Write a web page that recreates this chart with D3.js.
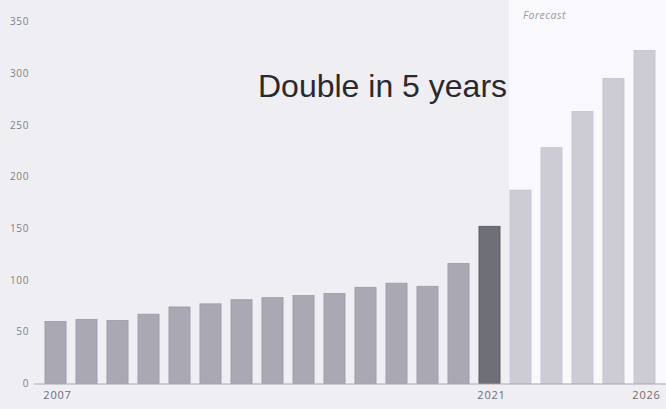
<!DOCTYPE html>
<html><head><meta charset="utf-8">
<script src="https://cdn.jsdelivr.net/npm/d3@7"></script>
<style>
html,body{margin:0;padding:0;background:#efeef2;}
svg{display:block;}
</style></head>
<body>
<svg id="chart" width="666" height="409"></svg>
<script>
const years = ["2007","2008","2009","2010","2011","2012","2013","2014","2015","2016","2017","2018","2019","2020","2021","2022","2023","2024","2025","2026"];
const values = [60,62,61,67,74,77,81,83,85,87,93,97,94,116,152,187,228,263,295,322];
const yTicks = [0,50,100,150,200,250,300,350];
const xTickLabels = ["2007","2021","2026"];
const forecastStart = "2022";
const currentYear = "2021";
const title = "Double in 5 years";
const forecastLabel = "Forecast";

const svg = d3.select("#chart");
const W = 666, H = 409;

const x = d3.scaleBand().domain(years).range([40, 660]).paddingInner(0.32).paddingOuter(0.16);
const y = d3.scaleLinear().domain([0, 350]).range([383.5, 21.5]);

// background
svg.append("rect").attr("x",0).attr("y",0).attr("width",W).attr("height",H).attr("fill","#efeef2");
// forecast region
const fx = x(forecastStart) - 1;
svg.append("rect").attr("x", fx).attr("y", 0).attr("width", W - fx).attr("height", y(0))
  .attr("fill", "#f9f8fc");

// bars
const idxF = years.indexOf(forecastStart);
svg.append("g").selectAll("rect").data(years).join("rect")
  .attr("x", d => x(d))
  .attr("width", x.bandwidth())
  .attr("y", (d,i) => y(values[i]))
  .attr("height", (d,i) => y(0) - y(values[i]))
  .attr("fill", (d,i) => d === currentYear ? "#6f6f78" : (i >= idxF ? "#cdccd5" : "#a9a8b3"))
  .attr("stroke", (d,i) => d === currentYear ? "#55555e" : (i >= idxF ? "#c4c3cc" : "#9b9aa6"))
  .attr("stroke-width", 0.8);

// baseline
svg.append("line").attr("x1", 34).attr("x2", W).attr("y1", y(0)+0.5).attr("y2", y(0)+0.5)
  .attr("stroke", "#a9a8b0").attr("stroke-width", 1.2);

// y axis labels
const yAxis = d3.axisLeft(y).tickValues(yTicks).tickSize(0).tickPadding(0);
const gy = svg.append("g").attr("transform", "translate(29,0)").call(yAxis);
gy.select(".domain").remove();
gy.selectAll("text").attr("font-family", "'Open Sans', sans-serif").attr("font-size", 10)
  .attr("fill", "#807f86").attr("letter-spacing", "0.6px");

// x axis labels
const xAxis = d3.axisBottom(x).tickValues(xTickLabels).tickSize(0).tickPadding(0);
const gx = svg.append("g").attr("transform", `translate(2,${y(0)+8})`).call(xAxis);
gx.select(".domain").remove();
gx.selectAll("text").attr("font-family", "'Open Sans', sans-serif").attr("font-size", 11)
  .attr("fill", "#6e6d75").attr("letter-spacing", "0.8px");

// title
svg.append("text").attr("x", 258).attr("y", 97)
  .attr("font-family", "'Liberation Sans', Arial, sans-serif").attr("font-size", 32)
  .attr("fill", "#2a2a2e").text(title);

// forecast label
svg.append("text").attr("x", 523).attr("y", 19)
  .attr("font-family", "'Open Sans', sans-serif").attr("font-style", "italic").attr("font-size", 10.5)
  .attr("fill", "#9a99a2").attr("letter-spacing", "0.5px").text(forecastLabel);
</script>
</body></html>
